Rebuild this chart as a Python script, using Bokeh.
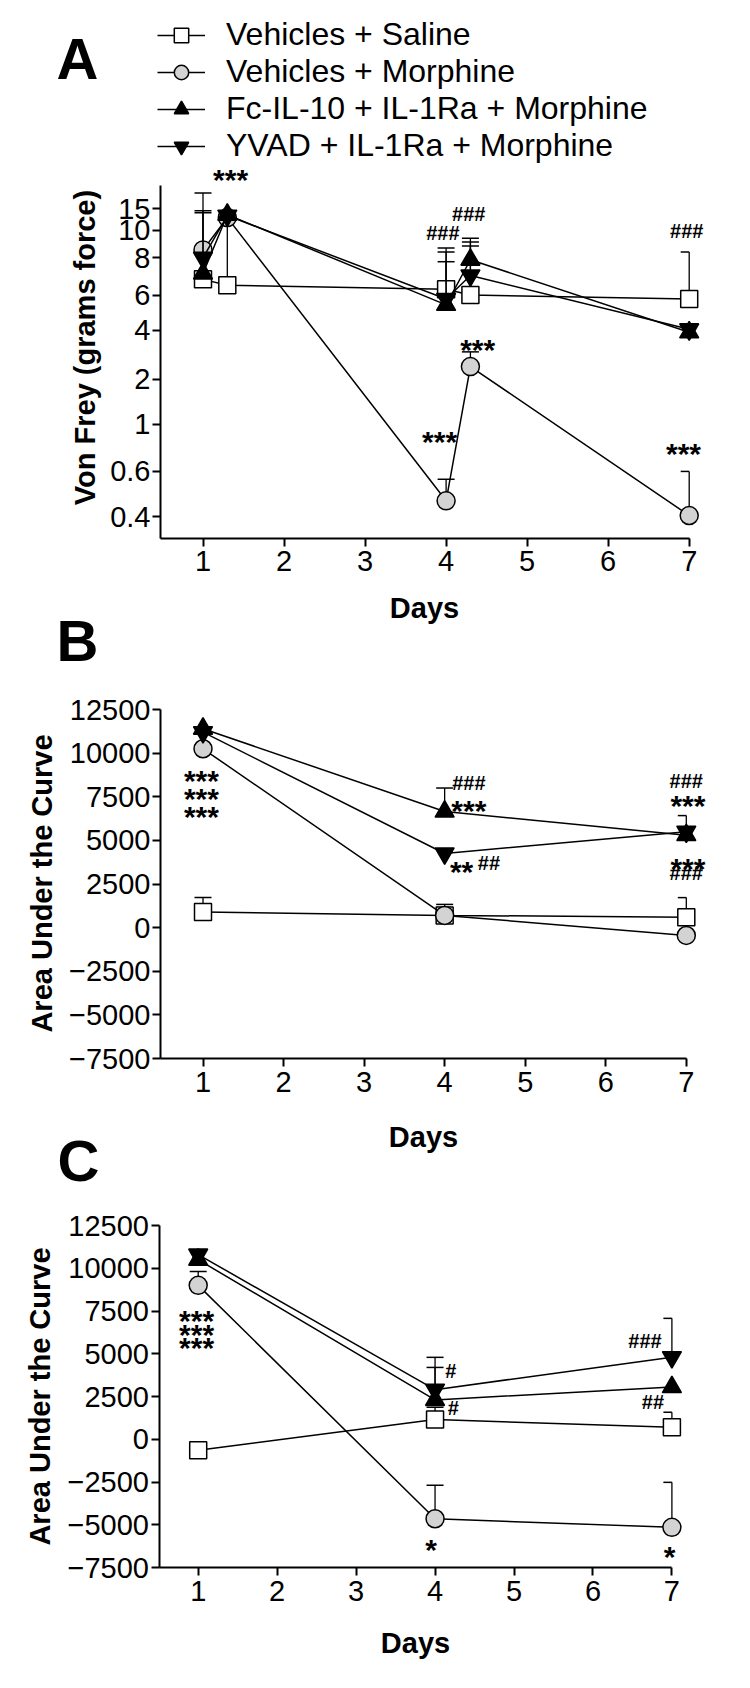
from math import pi
from bokeh.plotting import figure
from bokeh.models import (FixedTicker, Legend, LegendItem, Label, ColumnDataSource,
                          Range1d, LinearAxis)
from bokeh.embed import file_html
from bokeh.resources import INLINE
from bokeh.core.properties import value

FONT = "Liberation Sans"

series_labels = ["Vehicles + Saline", "Vehicles + Morphine",
                 "Fc-IL-10 + IL-1Ra + Morphine", "YVAD + IL-1Ra + Morphine"]
series_markers = ["square", "circle", "triangle", "inverted_triangle"]
series_fill = ["white", "#d3d3d3", "black", "black"]
series_size = [17, 18, 19, 19]

# ---------------- Panel A (von Frey filament scale; ticks labelled in grams) ----------------
days_A = [1, 1.3, 4, 4.3, 7]
saline_A = [4.82, 4.79, 4.77, 4.74, 4.72]
saline_A_err = [0.0, 0.35, 0.14, 0.25, 0.24]
morphine_A = [4.97, 5.135, 3.69, 4.375, 3.615]
morphine_A_err = [0.29, 0.0, 0.11, 0.075, 0.225]
fc_A = [4.85, 5.15, 4.69, 4.92, 4.55]
fc_A_err = [0.31, 0.0, 0.29, 0.11, 0.0]
yvad_A = [4.93, 5.145, 4.72, 4.84, 4.565]
yvad_A_err = [0.24, 0.0, 0.24, 0.17, 0.0]
vf_tick_pos = [3.61, 3.84, 4.08, 4.31, 4.56, 4.74, 4.93, 5.07, 5.18]
vf_tick_labels = ["0.4", "0.6", "1", "2", "4", "6", "8", "10", "15"]
stars_A = dict(x=[1.34, 4.39, 3.92, 6.93], y=[5.385, 4.52, 4.05, 3.99],
               text=["***", "***", "***", "***"])
hash_A = dict(x=[3.96, 4.28, 6.97], y=[5.07, 5.17, 5.08], text=["###", "###", "###"])

# ---------------- Panel B (AUC) ----------------
days_B = [1, 4, 7]
saline_B = [900, 700, 600]
saline_B_err = [820, 450, 1120]
morphine_B = [10250, 700, -450]
morphine_B_err = [0, 630, 0]
fc_B = [11400, 6650, 5300]
fc_B_err = [0, 1350, 1120]
yvad_B = [11200, 4250, 5500]
yvad_B_err = [0, 0, 0]
stars_B = dict(x=[0.98, 0.98, 0.98, 4.30, 4.21, 7.02, 7.02],
               y=[9054, 8023, 6991, 7335, 3840, 7620, 4010],
               text=["***", "***", "***", "***", "**", "***", "***"])
hash_B = dict(x=[4.30, 4.55, 7.0, 7.0], y=[8480, 3900, 8600, 3320],
              text=["###", "##", "###", "###"])

# ---------------- Panel C (AUC) ----------------
days_C = [1, 4, 7]
saline_C = [-650, 1150, 700]
saline_C_err = [0, 720, 880]
morphine_C = [9000, -4650, -5150]
morphine_C_err = [810, 1960, 2630]
fc_C = [10500, 2300, 3050]
fc_C_err = [0, 1900, 0]
yvad_C = [10800, 2900, 4800]
yvad_C_err = [0, 1890, 2270]
stars_C = dict(x=[0.98, 0.98, 0.98, 3.95, 6.97], y=[7590, 6780, 6020, -5780, -6190],
               text=["***", "***", "***", "*", "*"])
hash_C = dict(x=[4.20, 4.23, 6.66, 6.76], y=[4150, 1990, 5900, 2340],
              text=["#", "#", "###", "##"])

auc_ticks = [-7500, -5000, -2500, 0, 2500, 5000, 7500, 10000, 12500]
day_ticks = [1, 2, 3, 4, 5, 6, 7]

# ---------------- layout: one canvas, each panel on its own pair of ranges ----------------
W, H = 734, 1670


def rng(v_a, px_a, v_b, px_b, horizontal):
    k = (px_b - px_a) / (v_b - v_a)
    if horizontal:
        return Range1d(v_a + (8 - px_a) / k, v_a + (8 + W - px_a) / k)
    return Range1d(v_a + (8 + H - px_a) / k, v_a + (8 - px_a) / k)


p = figure(width=W, height=H, min_border=0, x_range=Range1d(0, W), y_range=Range1d(0, H),
           x_axis_type=None, y_axis_type=None, output_backend="svg",
           toolbar_location=None, tools="")
p.outline_line_color = None
p.background_fill_color = "white"
p.border_fill_color = "white"
p.extra_x_ranges = {"xA": rng(1, 210.5, 7, 696.7, True),
                    "xB": rng(1, 210.5, 7, 693.8, True),
                    "xC": rng(1, 205.7, 7, 679.4, True)}
p.extra_y_ranges = {"yA": rng(3.61, 524, 5.18, 216.3, False),
                    "yB": rng(-7500, 1066, 12500, 717, False),
                    "yC": rng(-7500, 1575, 12500, 1233, False)}


def style_axis(ax):
    ax.axis_line_width = 2
    ax.axis_line_color = "black"
    ax.major_tick_line_width = 2
    ax.major_tick_out = 8
    ax.major_tick_in = 0
    ax.minor_tick_out = 0
    ax.minor_tick_in = 0
    ax.major_label_text_font = FONT
    ax.major_label_text_font_size = "29px"
    ax.major_label_text_color = "black"


def panel(tag, days, means, errs, x0, y0, ytop, yticks, ylabels, px_per_day, stars, hashes):
    xr, yr = "x" + tag, "y" + tag
    xa = LinearAxis(x_range_name=xr, y_range_name=yr, fixed_location=y0,
                    ticker=FixedTicker(ticks=day_ticks), bounds=(x0, 7))
    ya = LinearAxis(x_range_name=xr, y_range_name=yr, fixed_location=x0,
                    ticker=FixedTicker(ticks=yticks), bounds=(y0, ytop))
    if ylabels is not None:
        ya.major_label_overrides = {t: l for t, l in zip(yticks, ylabels)}
    style_axis(xa)
    style_axis(ya)
    xa.major_label_standoff = 5
    ya.major_label_standoff = 2
    p.add_layout(xa, "below")
    p.add_layout(ya, "left")

    cap = 8.5 / px_per_day
    items = []
    for i in range(4):
        m, e = means[i], errs[i]
        lr = p.line(days, m, line_color="black", line_width=1.5,
                    x_range_name=xr, y_range_name=yr)
        ex = [d for d, v in zip(days, e) if v > 0]
        ey0 = [mm for mm, v in zip(m, e) if v > 0]
        ey1 = [mm + v for mm, v in zip(m, e) if v > 0]
        if ex:
            p.segment(ex, ey0, ex, ey1, line_color="black", line_width=1.3,
                      x_range_name=xr, y_range_name=yr)
            p.segment([d - cap for d in ex], ey1, [min(d + cap, 7) for d in ex], ey1,
                      line_color="black", line_width=1.5, x_range_name=xr, y_range_name=yr)
        sr = p.scatter(days, m, marker=series_markers[i], size=series_size[i],
                       fill_color=series_fill[i], line_color="black", line_width=1.5,
                       x_range_name=xr, y_range_name=yr)
        items.append(LegendItem(label=series_labels[i], renderers=[lr, sr]))

    p.text("x", "y", "text", source=ColumnDataSource(stars), text_font=value(FONT),
           text_font_style="bold", text_font_size="30px", text_align="center",
           text_baseline="alphabetic", y_offset=11, text_color="black",
           x_range_name=xr, y_range_name=yr)
    p.text("x", "y", "text", source=ColumnDataSource(hashes), text_font=value(FONT),
           text_font_style="bold", text_font_size="20px", text_align="center",
           text_baseline="alphabetic", y_offset=3, text_color="black",
           x_range_name=xr, y_range_name=yr)
    return items


def text_label(txt, px, py, size, angle=0.0, align="center"):
    # px, py: page pixels of the text anchor
    p.add_layout(Label(x=px - 8, y=8 + H - py, x_units="screen", y_units="screen",
                       text=txt, angle=angle, text_font=FONT, text_font_style="bold",
                       text_font_size=size, text_align=align, text_baseline="alphabetic",
                       text_color="black"))


itemsA = panel("A", days_A, [saline_A, morphine_A, fc_A, yvad_A],
               [saline_A_err, morphine_A_err, fc_A_err, yvad_A_err],
               0.4755, 3.5, 5.30, vf_tick_pos, vf_tick_labels, 81.03, stars_A, hash_A)
panel("B", days_B, [saline_B, morphine_B, fc_B, yvad_B],
      [saline_B_err, morphine_B_err, fc_B_err, yvad_B_err],
      0.4724, -7500, 12500, auc_ticks, None, 80.55, stars_B, hash_B)
panel("C", days_C, [saline_C, morphine_C, fc_C, yvad_C],
      [saline_C_err, morphine_C_err, fc_C_err, yvad_C_err],
      0.5035, -7500, 12500, auc_ticks, None, 78.95, stars_C, hash_C)

legend = Legend(items=itemsA, location=(157, 8 + H - 172), glyph_width=48, glyph_height=36,
                label_height=36, label_standoff=21, spacing=-2, padding=0, margin=0,
                border_line_color=None, background_fill_alpha=0,
                label_text_font=FONT, label_text_font_size="32px", label_text_color="black")
p.add_layout(legend, "center")

# panel letters
text_label("A", 64, 66, "58px", align="left")
text_label("B", 64, 648, "58px", align="left")
text_label("C", 65, 1168, "58px", align="left")
# axis titles
text_label("Days", 432, 615, "29px")
text_label("Days", 431, 1144, "29px")
text_label("Days", 423, 1650, "29px")
text_label("Von Frey (grams force)", 92, 355, "29px", angle=pi / 2)
text_label("Area Under the Curve", 49, 891, "29px", angle=pi / 2)
text_label("Area Under the Curve", 47, 1404, "29px", angle=pi / 2)

open("out.html", "w").write(file_html(p, INLINE))
